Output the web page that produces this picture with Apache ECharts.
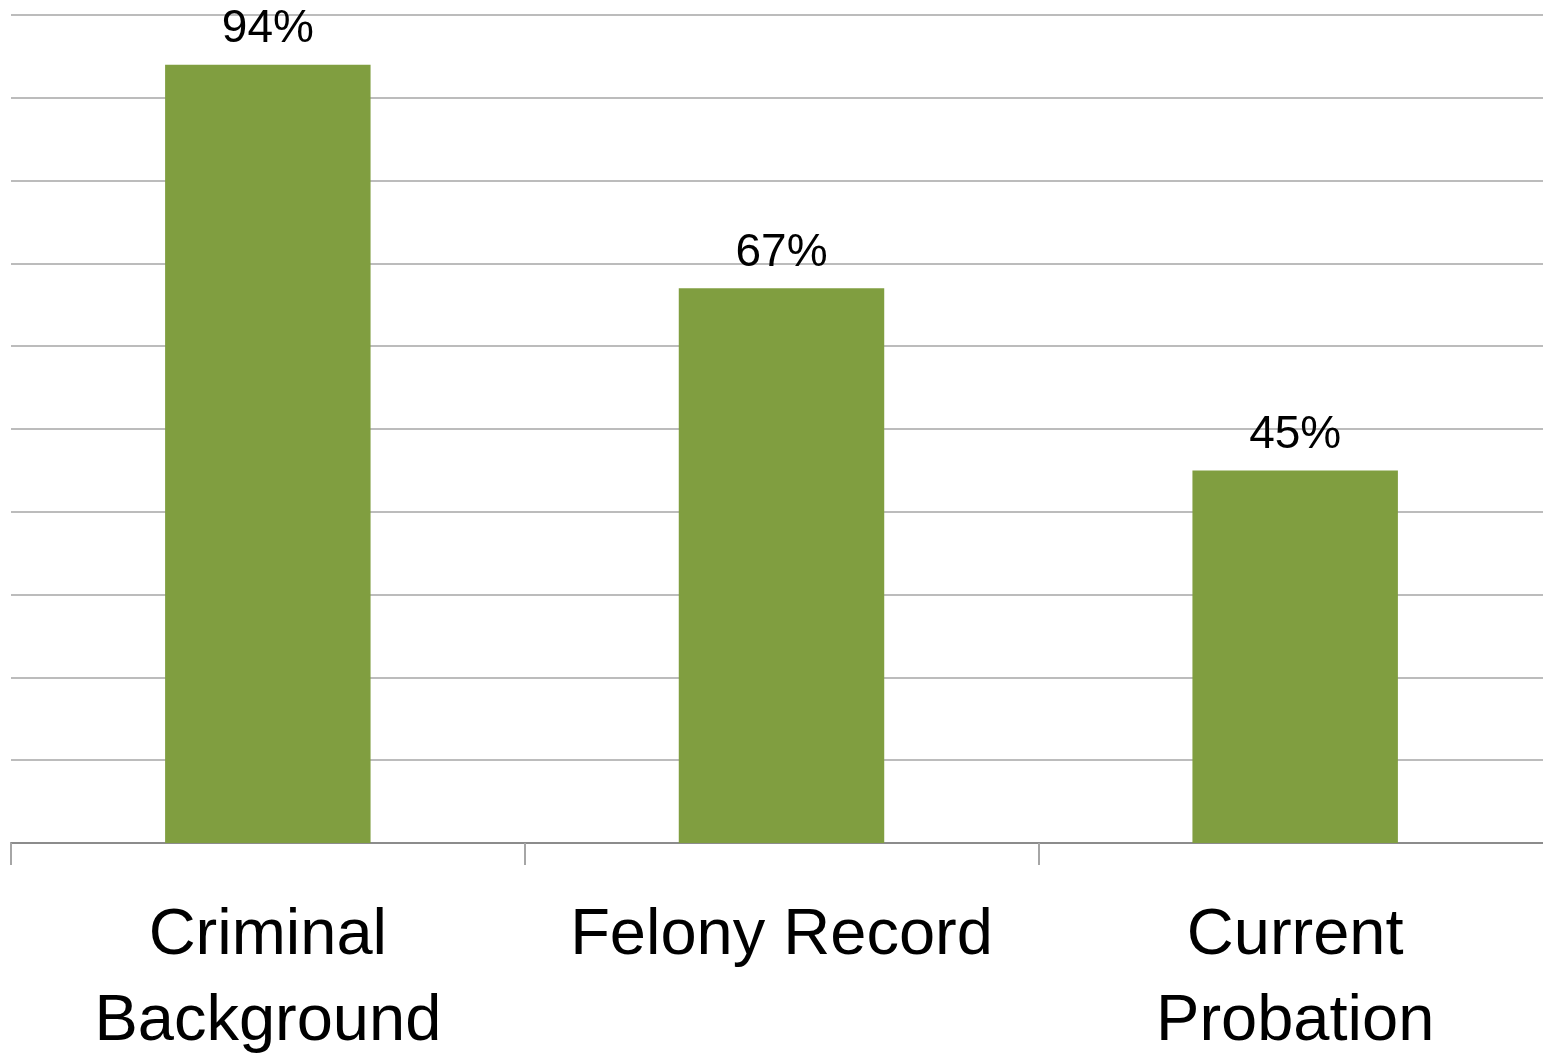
<!DOCTYPE html>
<html>
<head>
<meta charset="utf-8">
<script src="https://cdn.jsdelivr.net/npm/echarts@6/dist/echarts.min.js"></script>
<style>
  html, body { margin: 0; padding: 0; background: #fff; }
  #main { width: 1543px; height: 1057px; }
</style>
</head>
<body>
<div id="main"></div>
<script>
const categories = ["Criminal\nBackground", "Felony Record", "Current\nProbation"];
const values = [94, 67, 45];

const chart = echarts.init(document.getElementById("main"));

chart.setOption({
  animation: false,
  grid: { left: 11, right: -9, top: 15, bottom: 214, outerBoundsMode: "none" },
  xAxis: {
    type: "category",
    data: categories,
    axisLine: { lineStyle: { color: "#8c8c8c", width: 2 } },
    axisTick: { show: true, length: 22, lineStyle: { color: "#a6a6a6", width: 2 } },
    axisLabel: {
      interval: 0,
      margin: 50,
      fontSize: 65,
      lineHeight: 86,
      color: "#000",
      fontFamily: "'Liberation Sans', Arial, sans-serif",
    },
  },
  yAxis: {
    type: "value",
    min: 0,
    max: 100,
    interval: 10,
    axisLabel: { show: false },
    axisLine: { show: false },
    axisTick: { show: false },
    splitLine: { lineStyle: { color: "#a6a6a6", width: 1.5 } },
  },
  series: [
    {
      type: "bar",
      data: values,
      barWidth: "40%",
      itemStyle: { color: "#809e40" },
      label: {
        show: true,
        position: "top",
        distance: 12,
        formatter: "{c}%",
        fontSize: 46,
        color: "#000",
        fontFamily: "'Liberation Sans', Arial, sans-serif",
      },
    },
  ],
});
</script>
</body>
</html>
